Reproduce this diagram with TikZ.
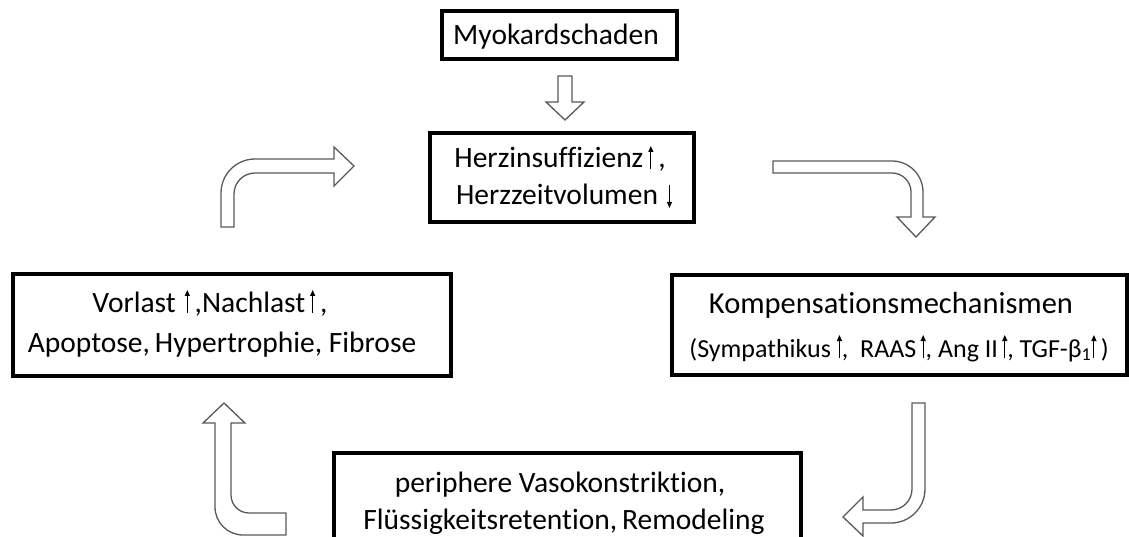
\documentclass[tikz,border=0pt]{standalone}
\usepackage{fontspec}
\setmainfont{Carlito}[Ligatures=NoCommon]
\usetikzlibrary{arrows.meta}

% thin up/down arrows used inside the text lines
\newcommand{\upar}{\tikz[baseline=0pt]{\draw[line width=1.1pt,-{Triangle[length=6pt,width=5pt]}] (0pt,-1pt) -- (0pt,22pt);}}
\newcommand{\dnar}{\tikz[baseline=0pt]{\draw[line width=1.1pt,-{Triangle[length=6pt,width=5pt]}] (0pt,20pt) -- (0pt,-3pt);}}

\begin{document}
\begin{tikzpicture}[x=1pt,y=-1pt,
  frame/.style={draw=black, line width=3.5pt, inner sep=0pt},
  txt/.style={anchor=base, inner sep=0pt, font=\fontsize{29.5}{35}\selectfont},
  bigtxt/.style={anchor=base, inner sep=0pt, font=\fontsize{30.5}{36}\selectfont},
  smalltxt/.style={anchor=base, inner sep=0pt, font=\fontsize{26}{31}\selectfont},
  blockarrow/.style={draw=black!65, line width=1.3pt, fill=white, line join=miter}]

\useasboundingbox (0,0) rectangle (1129,537);
\clip (0,0) rectangle (1129,537);

% ---- boxes ----
\node[frame, minimum width=235pt, minimum height=48pt] (myo) at (559.5,35) {};
\node[frame, minimum width=264pt, minimum height=89pt] (herz) at (562,177.5) {};
\node[frame, minimum width=438pt, minimum height=102pt] (links) at (232,325) {};
\node[frame, minimum width=455pt, minimum height=100pt] (komp) at (899.5,325) {};
\node[frame, minimum width=467pt, minimum height=120pt] (vaso) at (567.5,513) {};

% ---- texts ----
\node[txt] (myoT) at (556,45) {Myokardschaden};
\node[txt] (herzT1) at (560,168) {Herzinsuffizienz\,\upar\,,};
\node[txt] (herzT2) at (564,205) {Herzzeitvolumen\hspace{9pt}\dnar};
\node[txt] (linksT1) at (210,312) {Vorlast\hspace{9pt}\upar\,,Nachlast\,\upar\hspace{5pt},};
\node[txt] (linksT2) at (222,352) {Apoptose,\,Hypertrophie, Fibrose};
\node[bigtxt] (kompT1) at (891,313) {Kompensationsmechanismen};
\node[smalltxt] (kompT2) at (899,357) {(Sympathikus\hspace{6pt}\upar,\ \ RAAS\,\upar, Ang II\,\upar, TGF-β\textsubscript{1}\upar\,)};
\node[txt] (vasoT1) at (560,492) {periphere Vasokonstriktion,};
\node[txt] (vasoT2) at (564,529) {Flüssigkeitsretention,\,Remodeling};

% ---- hollow block arrows ----
% Myokardschaden -> Herzinsuffizienz
\draw[blockarrow] (558,76) -- (572,76) -- (572,102) -- (584,102) -- (565,120)
  -- (546,102) -- (558,102) -- cycle;

% Herzinsuffizienz -> Kompensationsmechanismen
\draw[blockarrow] (773,161) [rounded corners=31pt] -- (923,161) [sharp corners]
  -- (923,217) -- (935,217) -- (916,237) -- (897,217) -- (911,217)
  [rounded corners=19pt] -- (911,173) [sharp corners] -- (773,173) -- cycle;

% Kompensationsmechanismen -> Vasokonstriktion
\draw[blockarrow] (912,403) -- (925,403) [rounded corners=34pt] -- (925,523)
  [sharp corners] -- (863,523) -- (863,536) -- (843,517) -- (863,497) -- (863,510)
  [rounded corners=21pt] -- (912,510) [sharp corners] -- cycle;

% Vasokonstriktion -> Vorlast/Nachlast
\draw[blockarrow] (231,423) -- (245,423) -- (224,403) -- (203,423) -- (215,423)
  [rounded corners=28pt] -- (215,535) [sharp corners] -- (286,535) -- (286,513)
  [rounded corners=18pt] -- (231,513) [sharp corners] -- cycle;

% Vorlast/Nachlast -> Herzinsuffizienz
\draw[blockarrow] (221,227) [rounded corners=34pt] -- (221,159) [sharp corners]
  -- (334,159) -- (334,147) -- (354,166) -- (334,186) -- (334,173)
  [rounded corners=21pt] -- (234,173) [sharp corners] -- (234,227) -- cycle;

\end{tikzpicture}
\end{document}
